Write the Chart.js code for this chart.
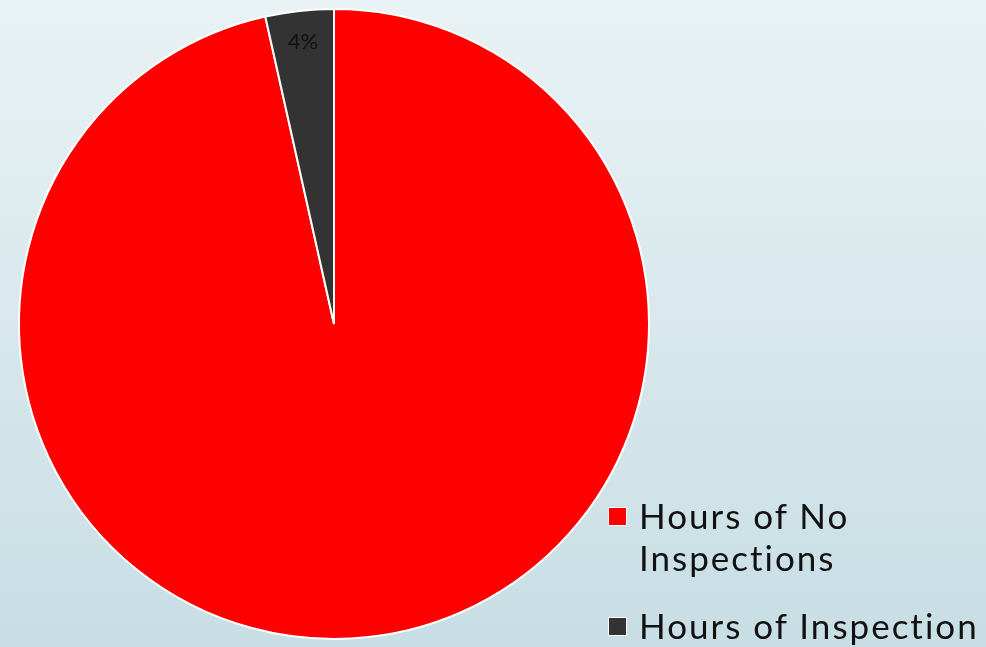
<html>
<head>
<script src="https://cdn.jsdelivr.net/npm/chart.js@4.4.0/dist/chart.umd.min.js"></script>
<style>
  body { margin:0; width:986px; height:647px; overflow:hidden;
         background: linear-gradient(#e9f2f5, #c7dee4); font-family: Lato, sans-serif; }
  #wrap { position:absolute; left:0; top:0; width:668px; height:647px; }
  #legend { position:absolute; left:608px; top:494px; color:#111; font-size:35px; letter-spacing:2px; white-space:nowrap; }
  .item { display:flex; align-items:flex-start; margin-bottom:26px; }
  .box { width:17px; height:17px; margin-top:13px; margin-right:12px; border:1px solid #fff; flex:none; }
  .txt { line-height:42px; }
</style>
</head>
<body>
<div id="wrap"><canvas id="mychart"></canvas></div>
<div id="legend"></div>
<script>
let labels = ['Hours of No Inspections', 'Hours of Inspection'];
let legendLines = [['Hours of No', 'Inspections'], ['Hours of Inspection']];
let values = [96.5, 3.5];
let colors = ['#ff0000', '#333333'];
let showLabel = [false, true];

let pctLabels = {
  id: 'pctLabels',
  afterDatasetsDraw: function(chart) {
    let ctx = chart.ctx;
    let meta = chart.getDatasetMeta(0);
    let total = values.reduce(function(a, b) { return a + b; }, 0);
    ctx.save();
    ctx.font = '22px Lato, sans-serif';
    ctx.fillStyle = '#111';
    ctx.textAlign = 'center';
    ctx.textBaseline = 'middle';
    meta.data.forEach(function(arc, i) {
      if (!showLabel[i]) return;
      let mid = (arc.startAngle + arc.endAngle) / 2;
      let r = arc.outerRadius * 0.9;
      ctx.fillText(Math.round(values[i] / total * 100) + '%', arc.x + Math.cos(mid) * r, arc.y + Math.sin(mid) * r);
    });
    ctx.restore();
  }
};

let chart = new Chart(document.getElementById('mychart'), {
  type: 'pie',
  data: {
    labels: labels,
    datasets: [{ data: values, backgroundColor: colors, borderColor: '#ffffff', borderWidth: 2 }]
  },
  options: {
    responsive: true,
    maintainAspectRatio: false,
    animation: false,
    layout: { padding: { left: 18, right: 18, top: 8, bottom: 7 } },
    plugins: { legend: { display: false }, tooltip: { enabled: false } }
  },
  plugins: [pctLabels]
});

let legend = document.getElementById('legend');
labels.forEach(function(l, i) {
  let item = document.createElement('div');
  item.className = 'item';
  item.innerHTML = '<div class="box" style="background:' + colors[i] + '"></div><div class="txt">' + legendLines[i].join('<br>') + '</div>';
  legend.appendChild(item);
});
</script>
</body>
</html>
